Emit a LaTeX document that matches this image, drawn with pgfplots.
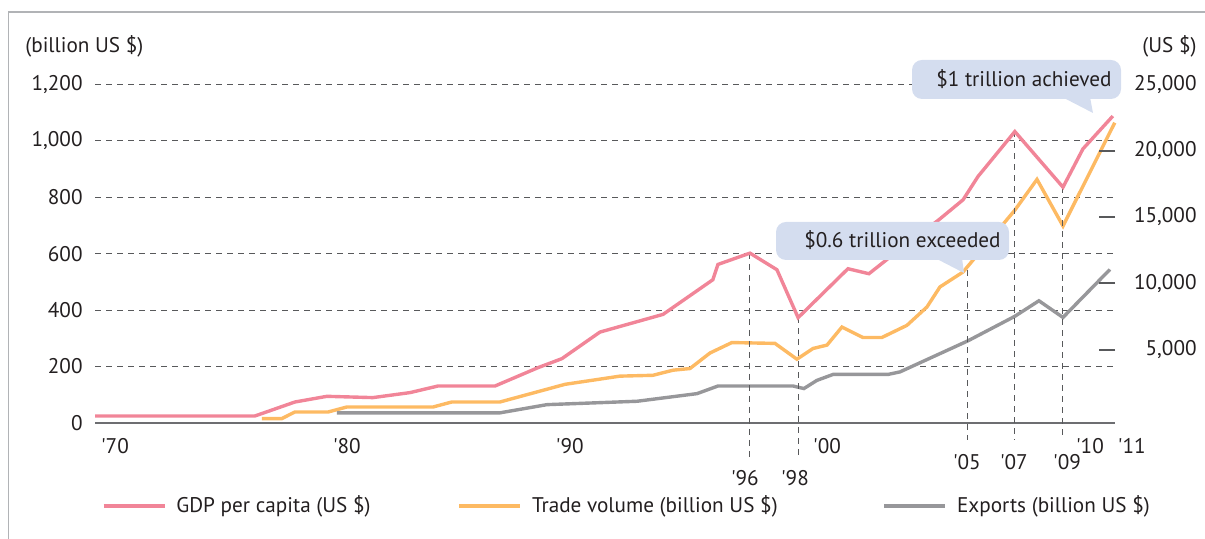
\documentclass[border=0pt]{standalone}
\usepackage{pgfplots}
\pgfplotsset{compat=1.18}
\usepackage{pgfplotstable}
\usepackage{fontspec}
\setmainfont{PT Sans}
\definecolor{gdp}{RGB}{241,133,152}
\definecolor{trade}{RGB}{253,186,99}
\definecolor{expo}{RGB}{151,151,154}
\definecolor{basecol}{RGB}{109,110,113}
\definecolor{gridcol}{RGB}{88,89,91}
\definecolor{callout}{RGB}{212,221,239}
\definecolor{framecol}{RGB}{177,179,182}
\definecolor{txt}{RGB}{35,31,32}

\pgfplotstableread{
x y
1968.80 0
1975.44 0
1977.10 1054
1978.43 1483
1980.34 1386
1981.88 1762
1983.04 2259
1985.41 2259
1987.20 3645
1988.19 4322
1989.77 6325
1992.39 7658
1994.46 10271
1994.67 11423
1996.00 12274
1997.12 11024
1998.00 7410
2000.07 11099
2000.94 10723
2002.85 13456
2003.81 14736
2004.85 16295
2005.47 18049
2007.00 21438
2009.00 17244
2009.83 20135
2011.07 22605
}\gdptable

\pgfplotstableread{
x y
1975.73 15.6
1976.56 15.6
1977.10 39
1978.48 39
1979.26 56.7
1982.84 56.7
1983.62 74.5
1985.62 74.5
1988.32 137
1990.60 166
1991.97 169
1992.80 187
1993.51 193
1994.34 248
1995.25 285
1997.04 282
1997.95 226
1998.62 264
1999.20 276
1999.82 340
2000.69 303
2001.48 303
2002.52 346
2003.35 411
2003.89 482
2004.85 535
2007.00 754
2007.92 863
2009.00 698
2011.15 1064
}\tradetable

\pgfplotstableread{
x y
1978.85 36
1985.62 36
1987.57 65
1991.31 77
1993.80 104
1994.67 131
1997.79 131
1998.24 122
1998.78 151
1999.45 172
2001.73 172
2002.23 181
2005.05 291
2007.00 378
2008.00 433
2009.00 374
2010.95 544
}\exptable

\begin{document}
\begin{tikzpicture}[font=\fontsize{10.6}{12.5}\selectfont]
\path[use as bounding box] (0pt,0pt) rectangle (602.5pt,269.5pt);
\draw[framecol, line width=0.75pt] (4.25pt,0pt) -- (4.25pt,263.5pt) -- (602.5pt,263.5pt);

\begin{axis}[
  scale only axis, width=510pt, height=169.35pt,
  at={(47.5pt,58pt)}, anchor=south west,
  xmin=1968.8, xmax=2011.16, ymin=0, ymax=1200,
  clip=false,
  axis x line*=bottom, axis y line*=left,
  x axis line style={-, draw=basecol, line width=1pt},
  y axis line style={draw=none},
  ytick={0,200,...,1200},
  xtick={1969.63,1979.26,1988.52,1999.20,2010.12},
  xticklabels={\textquotesingle70,\textquotesingle80,\textquotesingle90,\textquotesingle00,\textquotesingle10},
  major tick length=0pt,
  ymajorgrids,
  major grid style={gridcol, line width=0.5pt, dash pattern=on 3pt off 2.5pt},
  yticklabel style={anchor=east, inner sep=0pt, xshift=-6pt, text=txt},
  xticklabel style={anchor=base, inner sep=0pt, yshift=-15.25pt, text=txt},
  scaled y ticks=false,
  /pgf/number format/1000 sep={,},
  /pgf/number format/assume math mode=true,
  legend columns=3,
  legend cell align=left,
  legend image code/.code={\draw[#1, line width=1.7pt] (0pt,0pt) -- (30.5pt,0pt);},
  legend style={at={(0.00686,-0.2451)}, anchor=west, draw=none, fill=none,
    inner sep=0pt, outer sep=0pt, nodes={inner sep=0pt, text=txt},
    /tikz/every odd column/.append style={column sep=5pt},
    /tikz/column 2/.style={column sep=43.5pt},
    /tikz/column 4/.style={column sep=52.5pt}},
]
\addlegendimage{gdp}
\addlegendentry{GDP per capita (US \$)}
\addplot[trade, line width=1.7pt] table {\tradetable};
\addlegendentry{Trade volume (billion US \$)}
\addplot[expo, line width=1.7pt] table {\exptable};
\addlegendentry{Exports (billion US \$)}

\draw[gridcol, line width=0.5pt, dash pattern=on 3pt off 2.5pt] (axis cs:1996,602.8) -- ([yshift=-17.5pt]axis cs:1996,0);
\draw[gridcol, line width=0.5pt, dash pattern=on 3pt off 2.5pt] (axis cs:1998,373.8) -- ([yshift=-17.5pt]axis cs:1998,0);
\draw[gridcol, line width=0.5pt, dash pattern=on 3pt off 2.5pt] (axis cs:2005.05,541.5) -- ([yshift=-8.5pt]axis cs:2005.05,0);
\draw[gridcol, line width=0.5pt, dash pattern=on 3pt off 2.5pt] (axis cs:2007,1034.4) -- ([yshift=-8.5pt]axis cs:2007,0);
\draw[gridcol, line width=0.5pt, dash pattern=on 3pt off 2.5pt] (axis cs:2009,835.8) -- ([yshift=-8.5pt]axis cs:2009,0);

\node[anchor=base, inner sep=0pt, text=txt] at ([yshift=-31.5pt]axis cs:1995.79,0) {\textquotesingle96};
\node[anchor=base, inner sep=0pt, text=txt] at ([yshift=-31.5pt]axis cs:1997.87,0) {\textquotesingle98};
\node[anchor=base, inner sep=0pt, text=txt] at ([yshift=-23.5pt]axis cs:2005.01,0) {\textquotesingle05};
\node[anchor=base, inner sep=0pt, text=txt] at ([yshift=-23.5pt]axis cs:2006.96,0) {\textquotesingle07};
\node[anchor=base, inner sep=0pt, text=txt] at ([yshift=-23.5pt]axis cs:2009.17,0) {\textquotesingle09};
\node[anchor=base, inner sep=0pt, text=txt] at ([yshift=-15.25pt]axis cs:2011.86,0) {\textquotesingle11};
\end{axis}

\begin{axis}[
  scale only axis, width=510pt, height=169.35pt,
  at={(47.5pt,58pt)}, anchor=south west,
  xmin=1968.8, xmax=2011.16, ymin=-527, ymax=25000,
  clip=false,
  axis x line=none, axis y line*=right,
  y axis line style={draw=none},
  ytick={5000,10000,...,25000},
  scaled y ticks=false,
  tick align=inside, major tick length=8pt,
  ytick style={draw=gridcol, line width=1pt},
  yticklabel style={anchor=east, inner sep=0pt, xshift=41pt, text=txt},
  /pgf/number format/1000 sep={,},
  /pgf/number format/assume math mode=true,
]
\addplot[gdp, line width=1.7pt] table {\gdptable};
\end{axis}

\node[anchor=base west, inner sep=0pt, text=txt] at (12.5pt,243.2pt) {(billion US \$)};
\node[anchor=base east, inner sep=0pt, text=txt] at (598.5pt,243.2pt) {(US \$)};

\fill[callout, rounded corners=5pt] (456pt,220pt) rectangle (560.5pt,239.5pt);
\fill[callout] (531pt,221pt) -- (545pt,221pt) -- (546.5pt,213pt) -- cycle;
\node[anchor=base east, inner sep=0pt, text=txt] at (556pt,226pt) {\$1 trillion achieved};

\fill[callout, rounded corners=5pt] (388pt,139.5pt) rectangle (504.5pt,158.5pt);
\fill[callout] (467.5pt,140.5pt) -- (481pt,140.5pt) -- (482pt,133pt) -- cycle;
\node[anchor=base east, inner sep=0pt, text=txt] at (500.5pt,145.5pt) {\$0.6 trillion exceeded};
\end{tikzpicture}
\end{document}
